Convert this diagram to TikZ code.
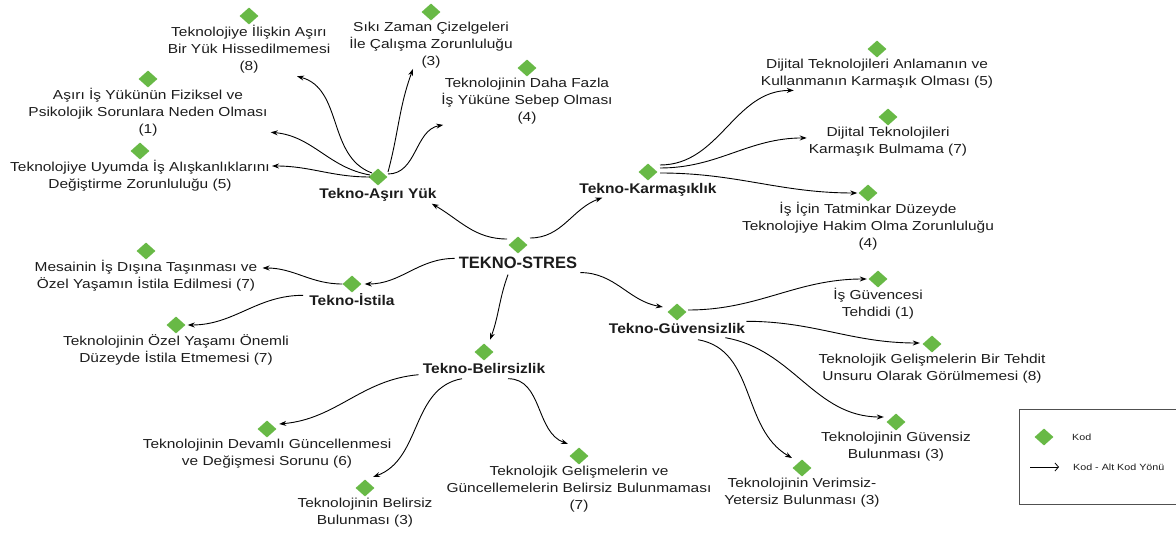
\documentclass[tikz,border=0pt]{standalone}
\usepackage{fontspec}
\setmainfont{Liberation Sans}
\newfontfamily\leaffont[FakeStretch=1.19]{Liberation Sans}
\newfontfamily\catfont[FakeStretch=1.11]{Liberation Sans}
\usetikzlibrary{shapes.geometric,arrows.meta,positioning}

\definecolor{kodgreen}{RGB}{104,185,70}
\definecolor{txt}{RGB}{28,28,28}
\definecolor{legline}{RGB}{80,80,80}

\tikzset{
  kod/.style={diamond, fill=kodgreen, draw=none, inner sep=0pt,
              minimum width=19pt, minimum height=17pt},
  leaf/.style={align=center, inner sep=0pt, text=txt,
               font=\leaffont\fontsize{13}{17}\selectfont,
               execute at begin node=\strut},
  cat/.style={align=center, inner sep=0pt, text=txt,
              font=\catfont\fontsize{14}{17}\bfseries,
              execute at begin node=\strut},
  root/.style={align=center, inner sep=0pt, text=txt,
               font=\fontsize{16.5}{20}\bfseries,
               execute at begin node=\strut},
  conn/.style={draw=black, line width=0.9pt,
               -{Stealth[length=7pt,width=5pt]}},
  legtext/.style={inner sep=0pt, text=txt, anchor=west,
                  font=\leaffont\fontsize{9}{11}\selectfont},
  legarrow/.style={draw=black, line width=0.8pt,
                   -{Straight Barb[length=3.5pt,width=8pt]}}
}

\begin{document}
\begin{tikzpicture}[x=1pt, y=1pt]
\useasboundingbox (0,0) rectangle (1176,-534);

% ---- central code and the five main codes ----
\node[kod] (dS) at (518,-245) {};
\node[root, below=0.5pt of dS] (tS) {TEKNO-STRES};

\node[kod] (dA) at (378,-177) {};
\node[cat, below=0.6pt of dA] (tA) {Tekno-Aşırı Yük};
\node[kod] (dK) at (648,-172) {};
\node[cat, below=0.6pt of dK] (tK) {Tekno-Karmaşıklık};
\node[kod] (dI) at (352,-284) {};
\node[cat, below=0.6pt of dI] (tI) {Tekno-İstila};
\node[kod] (dB) at (484,-352) {};
\node[cat, below=0.6pt of dB] (tB) {Tekno-Belirsizlik};
\node[kod] (dG) at (677,-312) {};
\node[cat, below=0.6pt of dG] (tG) {Tekno-Güvensizlik};

% ---- sub-codes: Tekno-Aşırı Yük ----
\node[kod] (dA1) at (249,-16) {};
\node[leaf, below=0.8pt of dA1] (tA1) {Teknolojiye İlişkin Aşırı\\Bir Yük Hissedilmemesi\\(8)};
\node[kod] (dA2) at (431,-12) {};
\node[leaf, below=0.8pt of dA2] (tA2) {Sıkı Zaman Çizelgeleri\\İle Çalışma Zorunluluğu\\(3)};
\node[kod] (dA3) at (148,-79) {};
\node[leaf, below=0.8pt of dA3] (tA3) {Aşırı İş Yükünün Fiziksel ve\\Psikolojik Sorunlara Neden Olması\\(1)};
\node[kod] (dA4) at (527,-68) {};
\node[leaf, below=0.8pt of dA4] (tA4) {Teknolojinin Daha Fazla\\İş Yüküne Sebep Olması\\(4)};
\node[kod] (dA5) at (140,-151) {};
\node[leaf, below=0.8pt of dA5] (tA5) {Teknolojiye Uyumda İş Alışkanlıklarını\\Değiştirme Zorunluluğu (5)};

% ---- sub-codes: Tekno-Karmaşıklık ----
\node[kod] (dK1) at (877,-49) {};
\node[leaf, below=0.8pt of dK1] (tK1) {Dijital Teknolojileri Anlamanın ve\\Kullanmanın Karmaşık Olması (5)};
\node[kod] (dK2) at (888,-117) {};
\node[leaf, below=0.8pt of dK2] (tK2) {Dijital Teknolojileri\\Karmaşık Bulmama (7)};
\node[kod] (dK3) at (868,-193) {};
\node[leaf, below=0.8pt of dK3] (tK3) {İş İçin Tatminkar Düzeyde\\Teknolojiye Hakim Olma Zorunluluğu\\(4)};

% ---- sub-codes: Tekno-İstila ----
\node[kod] (dI1) at (146,-251) {};
\node[leaf, below=0.8pt of dI1] (tI1) {Mesainin İş Dışına Taşınması ve\\Özel Yaşamın İstila Edilmesi (7)};
\node[kod] (dI2) at (176,-325) {};
\node[leaf, below=0.8pt of dI2] (tI2) {Teknolojinin Özel Yaşamı Önemli\\Düzeyde İstila Etmemesi (7)};

% ---- sub-codes: Tekno-Belirsizlik ----
\node[kod] (dB1) at (267,-429) {};
\node[leaf, below=0.8pt of dB1] (tB1) {Teknolojinin Devamlı Güncellenmesi\\ve Değişmesi Sorunu (6)};
\node[kod] (dB2) at (365,-488) {};
\node[leaf, below=0.8pt of dB2] (tB2) {Teknolojinin Belirsiz\\Bulunması (3)};
\node[kod] (dB3) at (579,-456) {};
\node[leaf, below=0.8pt of dB3] (tB3) {Teknolojik Gelişmelerin ve\\Güncellemelerin Belirsiz Bulunmaması\\(7)};

% ---- sub-codes: Tekno-Güvensizlik ----
\node[kod] (dG1) at (878,-279) {};
\node[leaf, below=0.8pt of dG1] (tG1) {İş Güvencesi\\Tehdidi (1)};
\node[kod] (dG2) at (932,-344) {};
\node[leaf, below=0.8pt of dG2] (tG2) {Teknolojik Gelişmelerin Bir Tehdit\\Unsuru Olarak Görülmemesi (8)};
\node[kod] (dG3) at (896,-422) {};
\node[leaf, below=0.8pt of dG3] (tG3) {Teknolojinin Güvensiz\\Bulunması (3)};
\node[kod] (dG4) at (802,-468) {};
\node[leaf, below=0.8pt of dG4] (tG4) {Teknolojinin Verimsiz-\\Yetersiz Bulunması (3)};

% ---- connectors from the central code ----
\draw[conn] ([shift={(-11,6)}]dS.center) to[out=180,in=-30] ([xshift=-5]tA.south east);
\draw[conn] ([shift={(12,7)}]dS.center) to[out=0,in=200] ([shift={(23,1)}]tK.south west);
\draw[conn] ([shift={(-4,6)}]tS.west) to[out=180,in=0] ([xshift=3]dI.east);
\draw[conn] ([xshift=-10]tS.south) to[out=-110,in=70] ([shift={(6,3.5)}]dB.north);
\draw[conn] ([shift={(3,2)}]tS.south east) to[out=0,in=170] ([shift={(-4.5,5)}]dG.west);

% ---- Tekno-Aşırı Yük ----
\draw[conn] ([shift={(-6,4)}]dA.center) to[out=160,in=-15] ([xshift=48]tA1.south);
\draw[conn] ([shift={(-8,2)}]dA.center) to[out=170,in=-5] ([shift={(3,7)}]tA3.south east);
\draw[conn] ([shift={(-8,0)}]dA.center) to[out=180,in=0] ([shift={(2,-5.5)}]tA5.north east);
\draw[conn] ([shift={(10,5)}]dA.center) to[out=75,in=-110] ([shift={(-18,1.5)}]tA2.south);
\draw[conn] ([shift={(10,3)}]dA.center) to[out=0,in=190] ([shift={(2,1.5)}]tA4.south west);

% ---- Tekno-Karmaşıklık ----
\draw[conn] ([shift={(12,7)}]dK.center) to[out=0,in=180] ([xshift=33]tK1.south west);
\draw[conn] ([shift={(12,4)}]dK.center) to[out=0,in=180] ([shift={(-2,4.5)}]tK2.west);
\draw[conn] ([shift={(12,-1)}]dK.center) to[out=0,in=180] ([xshift=-1]dK3.west);

% ---- Tekno-İstila ----
\draw[conn] (dI.west) to[out=180,in=0] ([shift={(5,-7.5)}]tI1.north east);
\draw[conn] ([shift={(-6,-2)}]tI.north west) to[out=180,in=0] ([xshift=2]dI2.east);

% ---- Tekno-Belirsizlik ----
\draw[conn] ([shift={(-4,4)}]tB.south west) to[out=185,in=5] ([shift={(2.5,5)}]dB1.east);
\draw[conn] ([xshift=-22]tB.south) to[out=190,in=20] ([shift={(8,11)}]dB2.center);
\draw[conn] ([xshift=24]tB.south) to[out=0,in=160] ([shift={(-11,12)}]dB3.center);

% ---- Tekno-Güvensizlik ----
\draw[conn] ([shift={(11,2)}]dG.center) to[out=0,in=180] ([xshift=-1.5]dG1.west);
\draw[conn] ([xshift=1]tG.north east) to[out=0,in=180] ([shift={(-2.5,1)}]dG2.west);
\draw[conn] ([shift={(-20,1)}]tG.south east) to[out=-10,in=180] ([shift={(-2.5,5)}]dG3.west);
\draw[conn] ([shift={(21,-1)}]tG.south) to[out=-10,in=150] ([shift={(-10,10)}]dG4.center);

% ---- legend ----
\node[draw=legline, line width=0.9pt, inner sep=0pt, anchor=north west,
      minimum width=175pt, minimum height=95pt] (legend) at (1019,-409) {};
\node[kod] (lkod) at (1044,-437) {};
\node[legtext] (lkodt) at (1072,-437) {Kod};
\coordinate (la1) at (1030,-467);
\coordinate (la2) at (1059,-467);
\draw[legarrow] (la1) -- (la2);
\node[legtext] (larrt) at (1073,-467) {Kod - Alt Kod Yönü};
\end{tikzpicture}
\end{document}
